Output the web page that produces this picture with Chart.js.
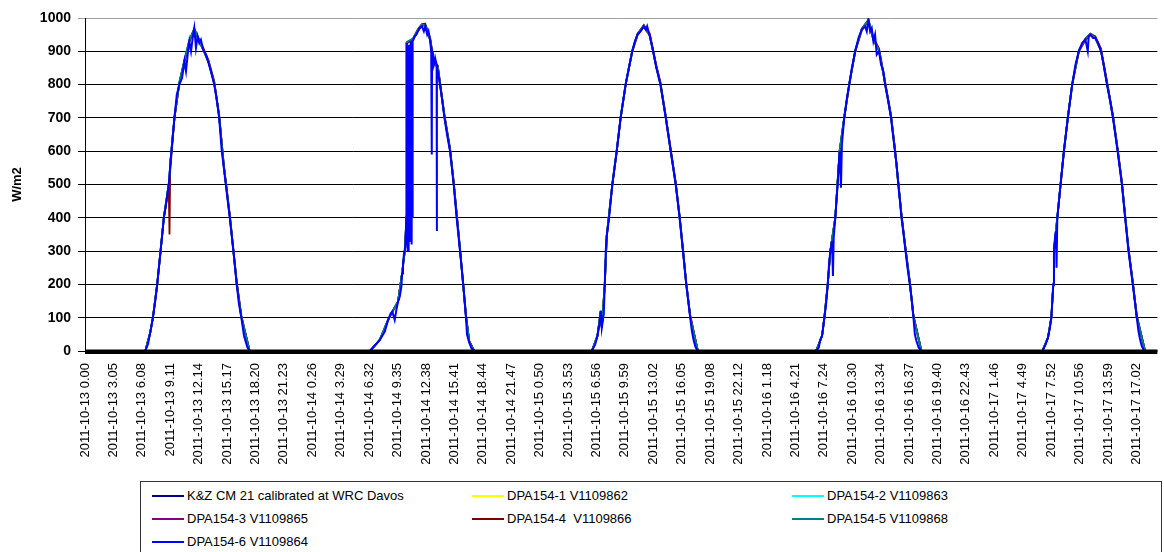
<!DOCTYPE html>
<html>
<head>
<meta charset="utf-8">
<script src="https://cdn.jsdelivr.net/npm/chart.js@4.4.1/dist/chart.umd.min.js"></script>
<style>
  html, body { margin: 0; padding: 0; background: #fff; }
  body { width: 1164px; height: 552px; overflow: hidden; position: relative; font-family: "Liberation Sans", Arial, sans-serif; }
  #c { position: absolute; left: 0; top: 0; }
  #legend { position: absolute; left: 140px; top: 481px; width: 1022px; height: 90px; border: 1px solid #333; box-sizing: border-box; background: #fff; }
  .item { position: absolute; font-size: 13px; color: #000; white-space: pre; line-height: 16px; }
  .swatch { position: absolute; height: 2px; width: 32px; }
</style>
</head>
<body>
<canvas id="c" width="1164" height="552"></canvas>
<div id="legend"></div>
<script>
// ---------- DATA ----------
const tickLabels = ["2011-10-13 0.00","2011-10-13 3.05","2011-10-13 6.08","2011-10-13 9.11","2011-10-13 12.14","2011-10-13 15.17","2011-10-13 18.20","2011-10-13 21.23","2011-10-14 0.26","2011-10-14 3.29","2011-10-14 6.32","2011-10-14 9.35","2011-10-14 12.38","2011-10-14 15.41","2011-10-14 18.44","2011-10-14 21.47","2011-10-15 0.50","2011-10-15 3.53","2011-10-15 6.56","2011-10-15 9.59","2011-10-15 13.02","2011-10-15 16.05","2011-10-15 19.08","2011-10-15 22.12","2011-10-16 1.18","2011-10-16 4.21","2011-10-16 7.24","2011-10-16 10.30","2011-10-16 13.34","2011-10-16 16.37","2011-10-16 19.40","2011-10-16 22.43","2011-10-17 1.46","2011-10-17 4.49","2011-10-17 7.52","2011-10-17 10.56","2011-10-17 13.59","2011-10-17 17.02"];
const tickStepHours = 3.05;      // elapsed hours between two printed category labels
const xMaxHours = 115.1;

const seriesNames = ["K&Z CM 21 calibrated at WRC Davos","DPA154-1 V1109862","DPA154-2 V1109863","DPA154-3 V1109865","DPA154-4  V1109866","DPA154-5 V1109868","DPA154-6 V1109864"];
const seriesColors = ["#000080","#FFFF00","#00FFFF","#800080","#800000","#008080","#0000FF"];

// elapsed hours (coarse sampling) used by the reference + first five DPA series
const hoursCoarse = [0,
  6.47,7.00,7.29,7.75,8.11,8.46,8.99,9.07,9.14,9.60,10.13,10.67,11.20,11.73,12.27,12.69,13.26,13.87,14.40,14.90,15.54,16.28,16.78,17.67,
  30.58,31.64,32.53,32.99,33.60,34.03,34.38,34.49,34.53,35.20,35.73,36.16,36.52,37.05,37.44,37.87,38.58,39.18,39.57,40.25,40.89,41.24,41.78,
  54.40,55.00,55.36,55.47,55.79,56.00,56.60,57.07,57.49,58.03,58.74,59.31,59.98,60.62,61.33,61.76,62.33,62.86,63.40,63.82,64.18,64.53,64.96,65.78,
  78.47,79.11,79.36,79.72,80.00,80.53,81.00,81.49,82.03,82.67,83.38,84.09,84.62,85.23,85.87,86.51,86.93,87.29,87.64,88.07,88.53,88.92,89.78,
  102.76,103.36,103.72,103.93,104.00,104.36,104.71,105.07,105.49,105.96,106.67,107.38,107.91,108.44,109.05,109.69,110.33,110.83,111.29,111.64,112.00,112.46,112.89,113.78,
  115.1];

const kzValues = [0,
  0,55,100,200,300,400,500,520,560,700,805,870,930,965,930,905,868,805,705,555,405,205,102,0,
  0,33,93,118,148,233,313,403,925,935,962,978,978,935,865,852,705,605,505,305,105,28,0,
  0,45,120,70,200,345,500,600,700,800,900,950,975,948,852,803,703,603,503,403,303,203,103,0,
  0,45,100,200,300,400,600,700,800,900,965,992,935,903,805,705,605,505,405,305,205,103,0,
  0,40,100,200,300,400,500,600,700,800,900,935,950,940,903,805,705,605,505,405,305,205,103,0,
  0];
const dpa1Values = [0,
  0,54,99,198,298,398,498,518,558,698,802,866,926,962,928,903,866,803,703,553,403,203,100,0,
  0,32,92,117,147,231,311,401,922,932,960,975,975,932,862,850,703,603,503,303,103,27,0,
  0,44,118,69,198,343,498,598,698,798,897,947,972,946,850,801,701,601,501,401,301,201,101,0,
  0,44,99,198,298,398,598,698,798,897,962,990,932,901,803,703,603,503,403,303,203,101,0,
  0,39,99,198,298,398,498,598,698,798,897,932,947,937,901,803,703,603,503,403,303,203,101,0,
  0];
const dpa2Values = [0,
  0,56,101,201,301,401,501,521,561,701,806,871,931,966,931,906,869,806,706,556,406,206,104,0,
  0,34,94,119,149,234,314,404,926,936,963,979,979,936,866,853,706,606,506,306,106,29,0,
  0,46,121,71,201,346,501,601,701,801,901,951,976,949,853,804,704,604,504,404,304,204,104,0,
  0,46,101,201,301,401,601,701,801,901,966,993,936,904,806,706,606,506,406,306,206,104,0,
  0,41,101,201,301,401,501,601,701,801,901,936,951,941,904,806,706,606,506,406,306,206,104,0,
  0];
const dpa3Values = [0,
  0,55,100,199,299,399,499,519,559,699,804,868,928,964,929,904,867,804,704,554,404,204,101,0,
  0,33,93,118,148,232,312,402,924,934,961,977,977,934,864,851,704,604,504,304,104,28,0,
  0,45,119,70,199,344,499,599,699,799,899,949,974,947,851,802,702,602,502,402,302,202,102,0,
  0,45,100,199,299,399,599,699,799,899,964,991,934,902,804,704,604,504,404,304,204,102,0,
  0,40,100,199,299,399,499,599,699,799,899,934,949,939,902,804,704,604,504,404,304,204,102,0,
  0];
const dpa4Values = [0,
  0,55,100,200,300,400,490,350,540,700,806,872,933,968,935,910,873,810,710,560,410,210,107,0,
  0,33,93,118,148,233,313,403,926,938,966,982,983,940,870,857,710,610,510,310,110,31,0,
  0,45,120,70,200,345,500,600,701,802,902,953,979,953,857,808,708,608,508,408,308,208,108,0,
  0,45,100,200,300,400,600,701,802,902,968,995,940,908,810,710,610,510,410,310,210,108,0,
  0,40,100,200,300,400,500,600,701,802,902,938,953,945,908,810,710,610,510,410,310,210,108,0,
  0];
const dpa5Values = [0,
  0,56,102,202,302,402,502,522,562,703,808,873,933,968,931,905,868,805,705,555,405,205,102,0,
  0,34,94,119,149,234,315,405,928,938,965,980,978,935,865,852,705,605,505,305,105,28,0,
  0,46,122,72,202,348,503,603,703,803,903,953,977,948,852,803,703,603,503,403,303,203,103,0,
  0,46,102,202,302,403,603,703,803,903,968,993,935,903,805,705,605,505,405,305,205,103,0,
  0,41,102,202,302,403,503,603,703,803,903,938,952,940,903,805,705,605,505,405,305,205,103,0,
  0];

// elapsed hours (fine sampling) for DPA154-6, which is drawn on top
const hoursFine = [0,
  6.47,6.76,7.00,7.29,7.54,7.75,8.11,8.36,8.46,8.64,8.89,8.99,9.28,9.60,9.85,10.13,10.42,10.67,10.84,11.02,11.20,11.38,11.56,11.73,11.91,12.09,12.27,12.44,12.69,12.98,13.26,13.51,13.87,14.12,14.40,14.68,14.90,15.11,15.54,15.93,16.28,16.53,16.78,17.07,17.42,17.67,
  30.58,31.29,31.64,32.18,32.53,32.82,32.99,33.24,33.42,33.60,33.78,33.96,34.03,34.13,34.24,34.38,34.49,34.53,34.56,34.60,34.63,34.67,34.70,34.74,34.77,34.81,34.84,34.88,34.91,34.95,34.98,35.02,35.06,35.10,35.13,35.17,35.20,35.38,35.56,35.73,35.91,36.16,36.37,36.52,36.73,36.87,37.05,37.16,37.21,37.23,37.25,37.33,37.44,37.58,37.74,37.76,37.78,37.87,38.15,38.40,38.58,38.86,39.18,39.57,39.89,40.25,40.60,40.89,41.00,41.24,41.49,41.78,
  54.40,54.76,55.00,55.22,55.36,55.47,55.57,55.68,55.79,55.89,56.00,56.25,56.60,57.07,57.49,58.03,58.38,58.74,59.02,59.31,59.63,59.98,60.20,60.34,60.62,60.98,61.33,61.76,62.33,62.86,63.40,63.82,64.18,64.53,64.96,65.14,65.32,65.53,65.78,
  78.47,78.76,78.93,79.11,79.36,79.54,79.72,79.86,80.00,80.18,80.28,80.36,80.53,80.78,80.89,81.00,81.14,81.24,81.49,81.78,82.03,82.31,82.67,83.02,83.38,83.73,83.91,84.09,84.27,84.44,84.62,84.80,84.98,85.23,85.44,85.69,85.87,86.15,86.51,86.72,86.93,87.11,87.29,87.47,87.64,87.86,88.07,88.28,88.53,88.75,88.92,89.07,89.24,89.49,89.78,
  102.76,103.11,103.36,103.57,103.72,103.93,104.00,104.11,104.21,104.28,104.36,104.71,105.07,105.49,105.96,106.31,106.67,107.02,107.38,107.63,107.73,107.91,108.20,108.44,108.73,109.05,109.33,109.69,110.04,110.33,110.83,111.29,111.64,112.00,112.46,112.89,113.07,113.24,113.42,113.60,113.78,
  115.1];
const dpa6Values = [0,
  0,20,55,100,150,200,300,370,400,430,480,500,600,700,770,800,820,870,840,890,930,900,940,970,910,945,925,935,905,890,865,840,800,760,700,600,550,500,400,300,200,140,100,45,12,0,
  0,22,33,58,93,113,118,93,123,148,163,193,233,263,293,313,403,925,320,920,300,910,350,920,300,900,600,920,330,930,500,930,320,920,400,930,930,945,950,960,970,975,960,975,950,960,930,900,900,590,900,890,860,880,860,360,850,840,790,740,700,650,600,500,400,300,200,100,50,25,8,0,
  0,20,45,80,120,70,90,110,200,300,345,400,500,600,700,800,850,900,930,950,960,975,965,975,945,900,850,800,700,600,500,400,300,200,100,60,33,12,0,
  0,10,35,45,100,140,200,260,300,330,225,340,400,500,550,600,490,620,700,760,800,850,900,940,965,975,960,995,960,970,930,950,890,900,860,840,800,760,700,650,600,560,500,450,400,350,300,250,200,150,100,50,30,10,0,
  0,20,40,70,100,200,300,340,360,250,400,500,600,700,800,860,900,925,935,900,945,950,940,940,925,900,860,800,750,700,600,500,400,300,200,100,60,35,15,5,0,
  0];

const seriesValues = [kzValues, dpa1Values, dpa2Values, dpa3Values, dpa4Values, dpa5Values, dpa6Values];
const seriesHours  = [hoursCoarse, hoursCoarse, hoursCoarse, hoursCoarse, hoursCoarse, hoursCoarse, hoursFine];

// ---------- CHART ----------
const FONT = '"Liberation Sans", Arial, sans-serif';

const datasets = seriesNames.map((name, i) => ({
  label: name,
  data: seriesHours[i].map((h, k) => ({ x: h, y: seriesValues[i][k] })),
  borderColor: seriesColors[i],
  backgroundColor: seriesColors[i],
  borderWidth: i === 6 ? 2 : 1.8,
  pointRadius: 0,
  pointHoverRadius: 0,
  tension: 0,
  fill: false,
  order: seriesNames.length - 1 - i   // later series drawn on top, like the original
}));

const thickZeroAxis = {
  id: 'thickZeroAxis',
  afterDatasetsDraw(chart) {
    const { ctx, chartArea, scales } = chart;
    const y = scales.y.getPixelForValue(0);
    ctx.save();
    ctx.fillStyle = '#000';
    ctx.fillRect(chartArea.left, y - 1.5, chartArea.right - chartArea.left, 4.5);
    ctx.restore();
  }
};

new Chart(document.getElementById('c'), {
  type: 'line',
  data: { datasets },
  plugins: [thickZeroAxis],
  options: {
    responsive: false,
    maintainAspectRatio: false,
    animation: false,
    devicePixelRatio: 1,
    layout: { padding: { top: 18, left: 0, right: 0, bottom: 71 } },
    plugins: { legend: { display: false }, tooltip: { enabled: false } },
    scales: {
      x: {
        type: 'linear',
        min: 0,
        max: xMaxHours,
        afterBuildTicks(scale) { scale.ticks = tickLabels.map((_, i) => ({ value: i * tickStepHours })); },
        afterFit(scale) { scale.height = 130; },
        grid: { display: false, drawTicks: false },
        border: { display: false },
        ticks: {
          autoSkip: false,
          minRotation: 90,
          maxRotation: 90,
          padding: 12,
          color: '#000',
          font: { family: FONT, size: 13 },
          callback: (v, idx) => tickLabels[idx]
        }
      },
      y: {
        min: 0,
        max: 1000,
        afterFit(scale) { scale.width = 85; },
        ticks: { stepSize: 100, padding: 7, color: '#000', font: { family: FONT, size: 14, weight: 'bold' }, callback: (v) => String(v) },
        grid: {
          color: (c) => (c.tick && c.tick.value === 1000 ? '#a0a0a0' : '#000'),
          lineWidth: 1,
          drawTicks: true,
          tickLength: 7
        },
        border: { display: true, color: '#000', width: 1 },
        title: { display: true, text: 'W/m2', color: '#000', font: { family: FONT, size: 13, weight: 'bold' }, padding: { top: 10, bottom: 0 } }
      }
    }
  }
});

// ---------- LEGEND (boxed, three columns) ----------
const legend = document.getElementById('legend');
const colText = [46, 366, 686];
const rowMid = [14, 37, 60];
seriesNames.forEach((name, i) => {
  const col = i % 3, row = Math.floor(i / 3);
  const sw = document.createElement('div');
  sw.className = 'swatch';
  sw.style.background = seriesColors[i];
  sw.style.left = (colText[col] - 35) + 'px';
  sw.style.top = (rowMid[row] - 1) + 'px';
  legend.appendChild(sw);
  const t = document.createElement('div');
  t.className = 'item';
  t.textContent = name;
  t.style.left = colText[col] + 'px';
  t.style.top = (rowMid[row] - 8) + 'px';
  legend.appendChild(t);
});
</script>
</body>
</html>
